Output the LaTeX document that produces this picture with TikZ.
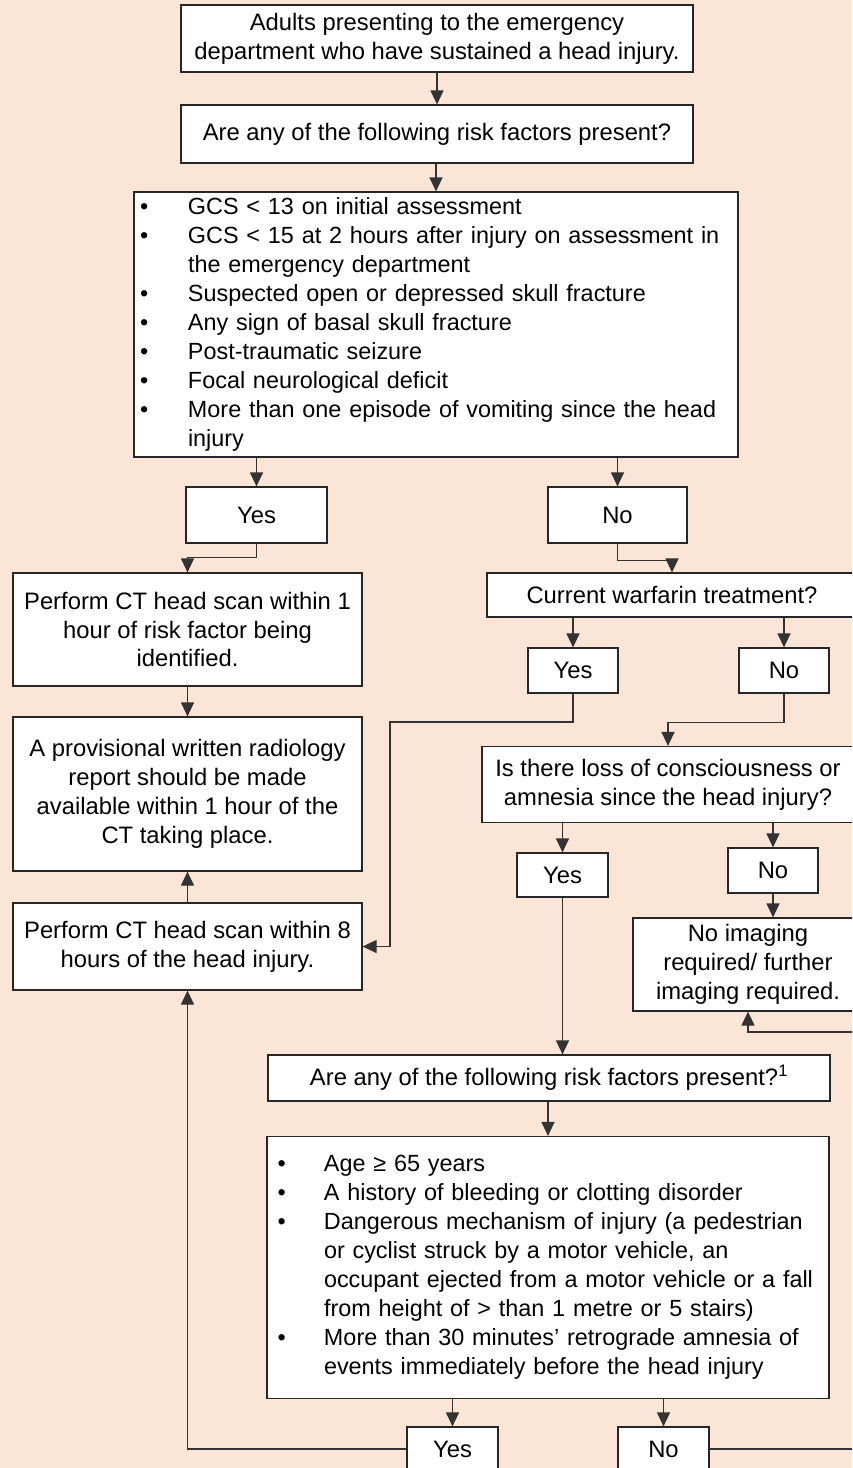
\documentclass[tikz,border=0pt]{standalone}
\usepackage{fontspec}
\setmainfont{Liberation Sans}
\usetikzlibrary{arrows.meta,positioning}
\definecolor{bgpeach}{RGB}{251,229,214}

\begin{document}
\begin{tikzpicture}[x=1pt,y=-1pt,
      mybox/.style={
         rectangle,
         draw=black!85,
         line width=1.2pt,
         fill=white,
         align=center,
         inner sep=2pt,
         font=\fontsize{23.8}{28.8}\selectfont},
      mylist/.style={
         mybox,
         align=left,
         font=\fontsize{23.4}{29}\selectfont},
      myarrow/.style={-{Triangle[width=13pt,length=14pt]},draw=black!80,line width=1.2pt}
      ]
      \fill[bgpeach] (0,0) rectangle (852,1468);
      \useasboundingbox (0,0) rectangle (852,1468);
      \clip (0,0) rectangle (852,1468);
      \node[mybox,minimum width=512pt,minimum height=67pt] (c1)at (437,38.5) {Adults presenting to the emergency\\department who have sustained a head injury.};
      \node[mybox,minimum width=512pt,minimum height=58pt] (c2)at (437,134) {Are any of the following risk factors present?};
      \node[mylist,inner xsep=6pt,text width=592pt,minimum height=259pt] (c3)at (436,324.5) {%
         \begin{tabular}{@{}p{48pt}@{}l@{}}
         \textbullet & GCS < 13 on initial assessment\\
         \textbullet & GCS < 15 at 2 hours after injury on assessment in\\
                     & the emergency department\\
         \textbullet & Suspected open or depressed skull fracture\\
         \textbullet & Any sign of basal skull fracture\\
         \textbullet & Post-traumatic seizure\\
         \textbullet & Focal neurological deficit\\
         \textbullet & More than one episode of vomiting since the head\\
                     & injury
         \end{tabular}};
      \node[mybox,minimum width=141pt,minimum height=56pt] (c4)at (256.5,515) {Yes};
      \node[mybox,minimum width=139pt,minimum height=56pt] (c5)at (617.5,515) {No};
      \node[mybox,minimum width=349pt,minimum height=113pt] (c6)at (187.5,629.5) {Perform CT head scan within 1\\hour of risk factor being\\identified.};
      \node[mybox,minimum width=370pt,minimum height=44pt] (c7)at (672,595) {Current warfarin treatment?};
      \node[mybox,minimum width=90pt,minimum height=45pt] (c8)at (573,670.5) {Yes};
      \node[mybox,minimum width=90pt,minimum height=45pt] (c9)at (784,670.5) {No};
      \node[mybox,minimum width=349pt,minimum height=154pt] (c10)at (187.5,794) {A provisional written radiology\\report should be made\\available within 1 hour of the\\CT taking place.};
      \node[mybox,minimum width=372pt,minimum height=76pt] (c11)at (668,784.5) {Is there loss of consciousness or\\amnesia since the head injury?};
      \node[mybox,minimum width=349pt,minimum height=87pt] (c12)at (187.5,946.5) {Perform CT head scan within 8\\hours of the head injury.};
      \node[mybox,minimum width=91pt,minimum height=44pt] (c13)at (562.5,875) {Yes};
      \node[mybox,minimum width=90pt,minimum height=45pt] (c14)at (773,870.5) {No};
      \node[mybox,minimum width=230pt,minimum height=93pt] (c15)at (748,964.5) {No imaging\\required/ further\\imaging required.};
      \node[mybox,minimum width=562pt,minimum height=46pt] (c16)at (549,1078) {Are any of the following risk factors present?\textsuperscript{1}};
      \node[mylist,inner xsep=10.5pt,text width=541pt,minimum height=262pt] (c17)at (548,1267.5) {%
         \begin{tabular}{@{}p{46.5pt}@{}l@{}}
         \textbullet & Age ≥ 65 years\\
         \textbullet & A history of bleeding or clotting disorder\\
         \textbullet & Dangerous mechanism of injury (a pedestrian\\
                     & or cyclist struck by a motor vehicle, an\\
                     & occupant ejected from a motor vehicle or a fall\\
                     & from height of > than 1 metre or 5 stairs)\\
         \textbullet & More than 30 minutes’ retrograde amnesia of\\
                     & events immediately before the head injury
         \end{tabular}};
      \node[mybox,minimum width=91pt,minimum height=44pt] (c18)at (452.5,1449) {Yes};
      \node[mybox,minimum width=91pt,minimum height=44pt] (c19)at (663.5,1449) {No};
      \coordinate (k1) at (390,722);
      \coordinate (k2) at (875,1032);
    % straight arrows down into the narrower box
    \foreach \i/\j in {
      c1/c2,
      c2/c3,
      c3/c4,
      c3/c5,
      c7/c8,
      c7/c9,
      c6/c10,
      c11/c13,
      c11/c14,
      c16/c17,
      c17/c18,
      c17/c19}
       \draw [myarrow] (\j.north |- \i.south) -- (\j.north);
    \foreach \i/\j in {
      c13/c16,
      c14/c15}
       \draw [myarrow] (\i.south) -- (\i.south |- \j.north);
    % elbows
    \draw [myarrow] (c12.north) -- (c10.south);
    \draw [myarrow] (c4.south) -- ++(0,14) -| (c6.north);
    \draw [myarrow] (c5.south) -- ++(0,17) -| (c7.north);
    \draw [myarrow] (c8.south) |- (k1) |- (c12.east);
    \draw [myarrow] (c9.south) -- ++(0,29) -| (c11.north);
    \draw [myarrow] (c18.west) -| (c12.south);
    \draw [myarrow] (c19.east) -| (k2) -| (c15.south);
\end{tikzpicture}
\end{document}
